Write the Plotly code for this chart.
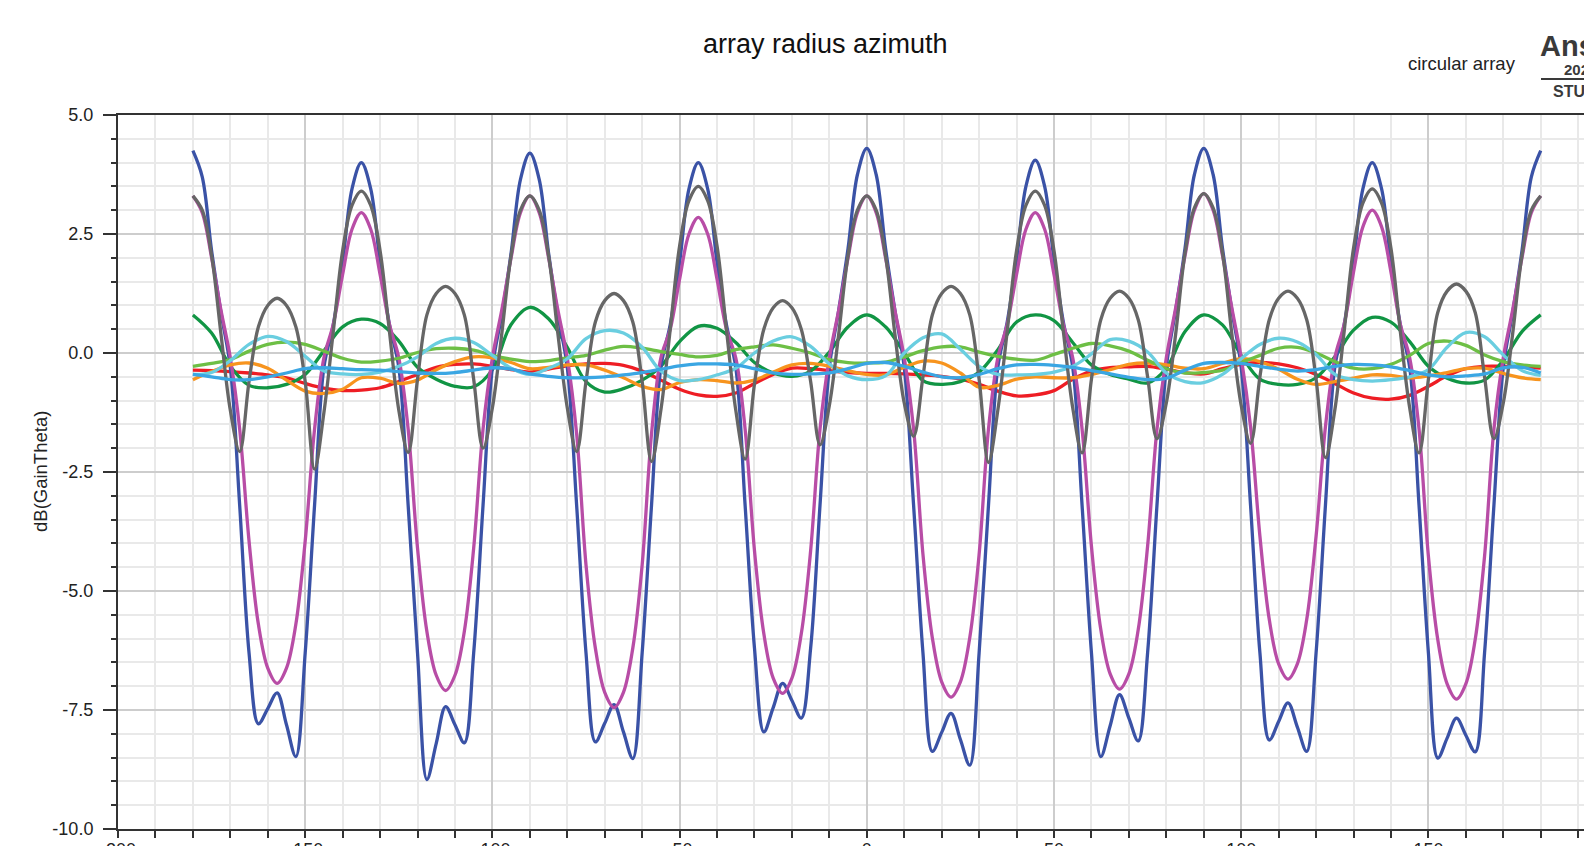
import plotly.graph_objects as go

# ---------------- data ----------------
# fine angle grid (2.5 deg) for the three strongly lobed traces
ANGLE_FINE = [-180 + 2.5 * i for i in range(145)]
# coarse angle grid (5 deg) for the six weakly varying traces
ANGLE_COARSE = [-180 + 5 * i for i in range(73)]

BLUE = [
    4.25, 3.70, 2.15, 0.85, -0.3, -3.2, -6.3, -7.79, -7.47, -7.14, -7.81, -8.48, -6.3, -3.2, -0.3, 0.6, 1.9, 3.45,
    4.0, 3.45, 1.9, 0.6, -0.3, -3.2, -6.3, -8.96, -8.2, -7.43, -7.81, -8.19, -6.3, -3.2, -0.3, 0.8, 2.1, 3.65,
    4.2, 3.65, 2.1, 0.8, -0.3, -3.2, -6.3, -8.17, -7.78, -7.39, -7.96, -8.52, -6.3, -3.2, -0.3, 0.6, 1.9, 3.45,
    4.0, 3.45, 1.9, 0.6, -0.3, -3.2, -6.2, -7.96, -7.45, -6.94, -7.3, -7.67, -6.2, -3.2, -0.3, 0.9, 2.2, 3.75,
    4.3, 3.75, 2.2, 0.9, -0.3, -3.2, -6.3, -8.37, -7.97, -7.57, -8.12, -8.66, -6.3, -3.2, -0.3, 0.65, 1.95, 3.5,
    4.05, 3.5, 1.95, 0.65, -0.3, -3.2, -6.3, -8.48, -7.83, -7.18, -7.67, -8.15, -6.3, -3.2, -0.3, 0.9, 2.2, 3.75,
    4.3, 3.75, 2.2, 0.9, -0.3, -3.2, -6.3, -8.13, -7.74, -7.35, -7.86, -8.37, -6.3, -3.2, -0.3, 0.6, 1.9, 3.45,
    4.0, 3.45, 1.9, 0.6, -0.3, -3.2, -6.3, -8.51, -8.09, -7.67, -8.03, -8.38, -6.3, -3.2, -0.3, 0.85, 2.15, 3.7,
    4.25,
]

MAGENTA = [
    3.3, 2.95, 2.0, 0.9, -0.1, -1.6, -3.95, -5.7, -6.62, -6.94, -6.62, -5.7, -3.95, -1.6, -0.1, 0.6, 1.65, 2.6,
    2.95, 2.6, 1.65, 0.6, -0.1, -1.6, -4.1, -5.85, -6.77, -7.09, -6.77, -5.85, -4.1, -1.6, -0.1, 0.9, 2.0, 2.95,
    3.3, 2.95, 2.0, 0.9, -0.1, -1.7, -4.45, -6.2, -7.13, -7.45, -7.13, -6.2, -4.45, -1.7, -0.1, 0.5, 1.55, 2.5,
    2.85, 2.5, 1.55, 0.5, -0.1, -1.6, -4.15, -5.9, -6.83, -7.15, -6.83, -5.9, -4.15, -1.6, -0.1, 0.9, 2.0, 2.95,
    3.3, 2.95, 2.0, 0.9, -0.1, -1.6, -4.23, -5.98, -6.91, -7.23, -6.91, -5.98, -4.23, -1.6, -0.1, 0.6, 1.65, 2.6,
    2.95, 2.6, 1.65, 0.6, -0.1, -1.6, -4.06, -5.81, -6.74, -7.06, -6.74, -5.81, -4.06, -1.6, -0.1, 0.95, 2.05, 3.0,
    3.35, 3.0, 2.05, 0.95, -0.1, -1.55, -3.85, -5.6, -6.53, -6.85, -6.53, -5.6, -3.85, -1.55, -0.1, 0.6, 1.7, 2.65,
    3.0, 2.65, 1.7, 0.6, -0.1, -1.6, -4.27, -6.02, -6.95, -7.27, -6.95, -6.02, -4.27, -1.6, -0.1, 0.9, 2.0, 2.95,
    3.3,
]

GRAY = [
    3.3, 3.0, 2.05, 0.4, -1.2, -2.07, -0.6, 0.55, 1.0, 1.15, 1.0, 0.55, -0.6, -2.44, -1.25, 0.45, 2.15, 3.1,
    3.4, 3.1, 2.15, 0.45, -1.2, -2.09, -0.55, 0.8, 1.25, 1.4, 1.25, 0.8, -0.55, -2.0, -1.15, 0.4, 2.05, 3.0,
    3.3, 3.0, 2.05, 0.4, -1.15, -2.07, -0.6, 0.65, 1.1, 1.25, 1.1, 0.65, -0.6, -2.28, -1.2, 0.5, 2.25, 3.2,
    3.5, 3.2, 2.25, 0.5, -1.2, -2.23, -0.65, 0.5, 0.95, 1.1, 0.95, 0.5, -0.6, -1.93, -1.1, 0.4, 2.05, 3.0,
    3.3, 3.0, 2.05, 0.4, -1.05, -1.75, -0.5, 0.8, 1.25, 1.4, 1.25, 0.8, -0.55, -2.3, -1.2, 0.45, 2.15, 3.1,
    3.4, 3.1, 2.15, 0.45, -1.15, -2.1, -0.55, 0.7, 1.15, 1.3, 1.15, 0.7, -0.5, -1.8, -1.05, 0.4, 2.1, 3.05,
    3.35, 3.05, 2.1, 0.4, -1.1, -1.9, -0.5, 0.7, 1.15, 1.3, 1.15, 0.7, -0.55, -2.2, -1.2, 0.45, 2.2, 3.15,
    3.45, 3.15, 2.2, 0.45, -1.15, -2.1, -0.55, 0.85, 1.3, 1.45, 1.3, 0.85, -0.5, -1.8, -1.05, 0.4, 2.05, 3.0,
    3.3,
]

DARK_GREEN = [
    0.80, 0.42, -0.28, -0.68, -0.73, -0.66, -0.45, 0.05, 0.55, 0.71, 0.62, 0.25, -0.30, -0.55, -0.70, -0.71, -0.35, 0.60, 0.96,
    0.72, 0.12, -0.60, -0.82, -0.75, -0.57, -0.28, 0.24, 0.56, 0.52, 0.22, -0.20, -0.42, -0.49, -0.38, 0.02, 0.55, 0.80,
    0.55, 0.0, -0.58, -0.66, -0.60, -0.40, 0.07, 0.65, 0.80, 0.68, 0.22, -0.25, -0.45, -0.55, -0.63, -0.32, 0.45, 0.80,
    0.59, -0.05, -0.55, -0.66, -0.66, -0.52, -0.08, 0.48, 0.75, 0.65, 0.24, -0.28, -0.53, -0.63, -0.57, -0.15, 0.45, 0.80,
]

CYAN = [
    -0.45, -0.41, -0.16, 0.18, 0.35, 0.24, -0.07, -0.38, -0.44, -0.45, -0.40, -0.28, -0.08, 0.20, 0.31, 0.22, -0.05, -0.32, -0.45,
    -0.32, -0.12, 0.30, 0.47, 0.42, 0.12, -0.38, -0.58, -0.56, -0.46, -0.32, 0.0, 0.25, 0.34, 0.14, -0.23, -0.48, -0.56,
    -0.48, 0.0, 0.32, 0.40, 0.08, -0.28, -0.45, -0.46, -0.45, -0.40, -0.28, -0.02, 0.28, 0.25, 0.02, -0.42, -0.60, -0.62,
    -0.45, -0.12, 0.18, 0.31, 0.23, -0.03, -0.45, -0.56, -0.59, -0.56, -0.50, -0.35, 0.12, 0.43, 0.34, -0.04, -0.37, -0.47,
]

LIGHT_GREEN = [
    -0.28, -0.22, -0.14, 0.04, 0.18, 0.23, 0.18, 0.04, -0.11, -0.19, -0.17, -0.11, 0.01, 0.09, 0.10, 0.06, -0.05, -0.13, -0.18,
    -0.16, -0.10, -0.05, 0.06, 0.14, 0.10, 0.03, -0.03, -0.08, -0.05, 0.07, 0.13, 0.17, 0.10, 0.0, -0.14, -0.20, -0.21,
    -0.19, -0.08, 0.05, 0.13, 0.13, 0.02, -0.07, -0.13, -0.15, -0.03, 0.10, 0.20, 0.15, 0.04, -0.15, -0.33, -0.42, -0.41,
    -0.36, -0.20, -0.05, 0.10, 0.12, 0.0, -0.18, -0.32, -0.33, -0.24, -0.05, 0.20, 0.25, 0.16, -0.04, -0.18, -0.25, -0.28,
]

RED = [
    -0.36, -0.37, -0.39, -0.42, -0.46, -0.52, -0.64, -0.74, -0.79, -0.78, -0.73, -0.60, -0.45, -0.30, -0.24, -0.23, -0.28, -0.35, -0.40,
    -0.34, -0.27, -0.23, -0.22, -0.26, -0.38, -0.57, -0.76, -0.88, -0.91, -0.84, -0.64, -0.45, -0.32, -0.33, -0.37, -0.41, -0.43,
    -0.43, -0.44, -0.46, -0.49, -0.55, -0.66, -0.80, -0.90, -0.88, -0.79, -0.55, -0.38, -0.31, -0.29, -0.28, -0.34, -0.41, -0.44,
    -0.33, -0.24, -0.20, -0.23, -0.31, -0.45, -0.64, -0.84, -0.95, -0.97, -0.89, -0.70, -0.48, -0.33, -0.28, -0.28, -0.29, -0.32,
]

ORANGE = [
    -0.56, -0.39, -0.25, -0.21, -0.32, -0.57, -0.80, -0.85, -0.76, -0.52, -0.53, -0.64, -0.57, -0.35, -0.18, -0.08, -0.10, -0.20, -0.33,
    -0.30, -0.25, -0.25, -0.36, -0.52, -0.70, -0.77, -0.62, -0.56, -0.58, -0.63, -0.57, -0.40, -0.25, -0.22, -0.28, -0.37, -0.45,
    -0.46, -0.30, -0.17, -0.21, -0.42, -0.72, -0.68, -0.55, -0.50, -0.52, -0.52, -0.45, -0.35, -0.24, -0.21, -0.25, -0.32, -0.33,
    -0.22, -0.12, -0.18, -0.34, -0.55, -0.66, -0.60, -0.53, -0.46, -0.47, -0.52, -0.48, -0.41, -0.33, -0.32, -0.43, -0.52, -0.56,
]

SKY_BLUE = [
    -0.45, -0.50, -0.56, -0.56, -0.50, -0.42, -0.33, -0.31, -0.33, -0.35, -0.36, -0.39, -0.42, -0.43, -0.41, -0.36, -0.31, -0.34, -0.44,
    -0.49, -0.52, -0.52, -0.50, -0.46, -0.41, -0.34, -0.27, -0.23, -0.23, -0.25, -0.33, -0.42, -0.45, -0.44, -0.42, -0.33, -0.22,
    -0.20, -0.28, -0.40, -0.50, -0.52, -0.45, -0.33, -0.25, -0.24, -0.26, -0.30, -0.37, -0.44, -0.51, -0.56, -0.53, -0.36, -0.22,
    -0.20, -0.22, -0.28, -0.34, -0.38, -0.35, -0.28, -0.24, -0.25, -0.29, -0.37, -0.46, -0.50, -0.48, -0.44, -0.31, -0.30, -0.42,
]

X_TICKS = [-200, -150, -100, -50, 0, 50, 100, 150]
X_LABELS = ["-200", "-150", "-100", "-50", "0", "50", "100", "150"]
Y_TICKS = [5.0, 2.5, 0.0, -2.5, -5.0, -7.5, -10.0]
Y_LABELS = ["5.0", "2.5", "0.0", "-2.5", "-5.0", "-7.5", "-10.0"]

# (name, x, y, colour) in drawing order
SERIES = [
    ("trace 1", ANGLE_COARSE, RED, "#EE1D24"),
    ("trace 2", ANGLE_COARSE, DARK_GREEN, "#119544"),
    ("trace 3", ANGLE_FINE, BLUE, "#3A52A6"),
    ("trace 4", ANGLE_FINE, MAGENTA, "#B84DA6"),
    ("trace 5", ANGLE_COARSE, ORANGE, "#F7941E"),
    ("trace 6", ANGLE_COARSE, LIGHT_GREEN, "#6DBF45"),
    ("trace 7", ANGLE_COARSE, CYAN, "#6ACEE0"),
    ("trace 8", ANGLE_FINE, GRAY, "#666666"),
    ("trace 9", ANGLE_COARSE, SKY_BLUE, "#3AA6E3"),
]

FONT = "Liberation Sans, Arial, Helvetica, sans-serif"

fig = go.Figure()
for name, xs, ys, col in SERIES:
    fig.add_trace(go.Scatter(
        x=xs, y=ys, mode="lines", name=name, showlegend=False, hoverinfo="skip",
        line=dict(color=col, width=3.3, shape="spline", smoothing=1.0),
    ))

# plot area: left 118px, top 115px, bottom 829px, right = window edge
L, T, B, W, H = 118, 115, 17, 1584, 846
PW = W - L
PH = H - T - B


def px(xpix):
    return (xpix - L) / PW


def py(ypix):
    return (H - B - ypix) / PH


fig.update_layout(
    width=W, height=H,
    margin=dict(l=L, r=0, t=T, b=B, pad=0, autoexpand=False),
    paper_bgcolor="white", plot_bgcolor="white",
    font=dict(family=FONT, size=18, color="#222222"),
    showlegend=False,
    xaxis=dict(
        automargin=False,
        range=[-200, -200 + PW / 3.744],
        tickmode="array", tickvals=X_TICKS, ticktext=X_LABELS,
        ticks="outside", ticklen=7, tickwidth=1.5, tickcolor="#333333",
        ticklabelstandoff=-4,
        showline=True, linecolor="#333333", linewidth=2, mirror=True,
        showgrid=True, gridcolor="#CDCDCD", gridwidth=1.5, zeroline=False,
        tickfont=dict(size=18, color="#222222"),
        minor=dict(tickmode="linear", tick0=0, dtick=10, ticks="outside", ticklen=7,
                   tickwidth=1.5, tickcolor="#333333", showgrid=True,
                   gridcolor="#E9E9E9", gridwidth=1.5),
    ),
    yaxis=dict(
        automargin=False,
        range=[-10, 5],
        tickmode="array", tickvals=Y_TICKS, ticktext=Y_LABELS,
        ticks="outside", ticklen=13, tickwidth=1.5, tickcolor="#333333",
        ticklabelstandoff=6,
        showline=True, linecolor="#333333", linewidth=2, mirror=False,
        showgrid=True, gridcolor="#CDCDCD", gridwidth=1.5, zeroline=False,
        tickfont=dict(size=18, color="#222222"),
        minor=dict(tickmode="linear", tick0=0, dtick=0.5, ticks="outside", ticklen=5,
                   tickwidth=1.5, tickcolor="#333333", showgrid=True,
                   gridcolor="#E9E9E9", gridwidth=1.5),
    ),
    annotations=[
        dict(text="array radius azimuth", xref="paper", yref="paper",
             x=px(825), y=py(44), xanchor="center", yanchor="middle",
             showarrow=False, font=dict(family=FONT, size=27, color="#111111")),
        dict(text="dB(GainTheta)", xref="paper", yref="paper",
             x=px(40), y=py(472), xanchor="center", yanchor="middle", textangle=-90,
             showarrow=False, font=dict(family=FONT, size=18.5, color="#222222")),
        dict(text="circular array", xref="paper", yref="paper",
             x=px(1462), y=py(63), xanchor="center", yanchor="middle",
             showarrow=False, font=dict(family=FONT, size=18.5, color="#222222")),
        dict(text="<b>Ansys</b>", xref="paper", yref="paper",
             x=px(1538), y=py(46), xanchor="left", yanchor="middle",
             showarrow=False, font=dict(family=FONT, size=29, color="#3a3a3a")),
        dict(text="<b>2023</b>", xref="paper", yref="paper",
             x=px(1562), y=py(69), xanchor="left", yanchor="middle",
             showarrow=False, font=dict(family=FONT, size=15, color="#3a3a3a")),
        dict(text="<b>STUDENT</b>", xref="paper", yref="paper",
             x=px(1551), y=py(92), xanchor="left", yanchor="middle",
             showarrow=False, font=dict(family=FONT, size=16, color="#3a3a3a")),
    ],
    shapes=[
        dict(type="line", xref="paper", yref="paper",
             x0=px(1541), x1=px(1640), y0=py(79), y1=py(79),
             line=dict(color="#3a3a3a", width=2)),
    ],
)

fig.write_html("out.html")
